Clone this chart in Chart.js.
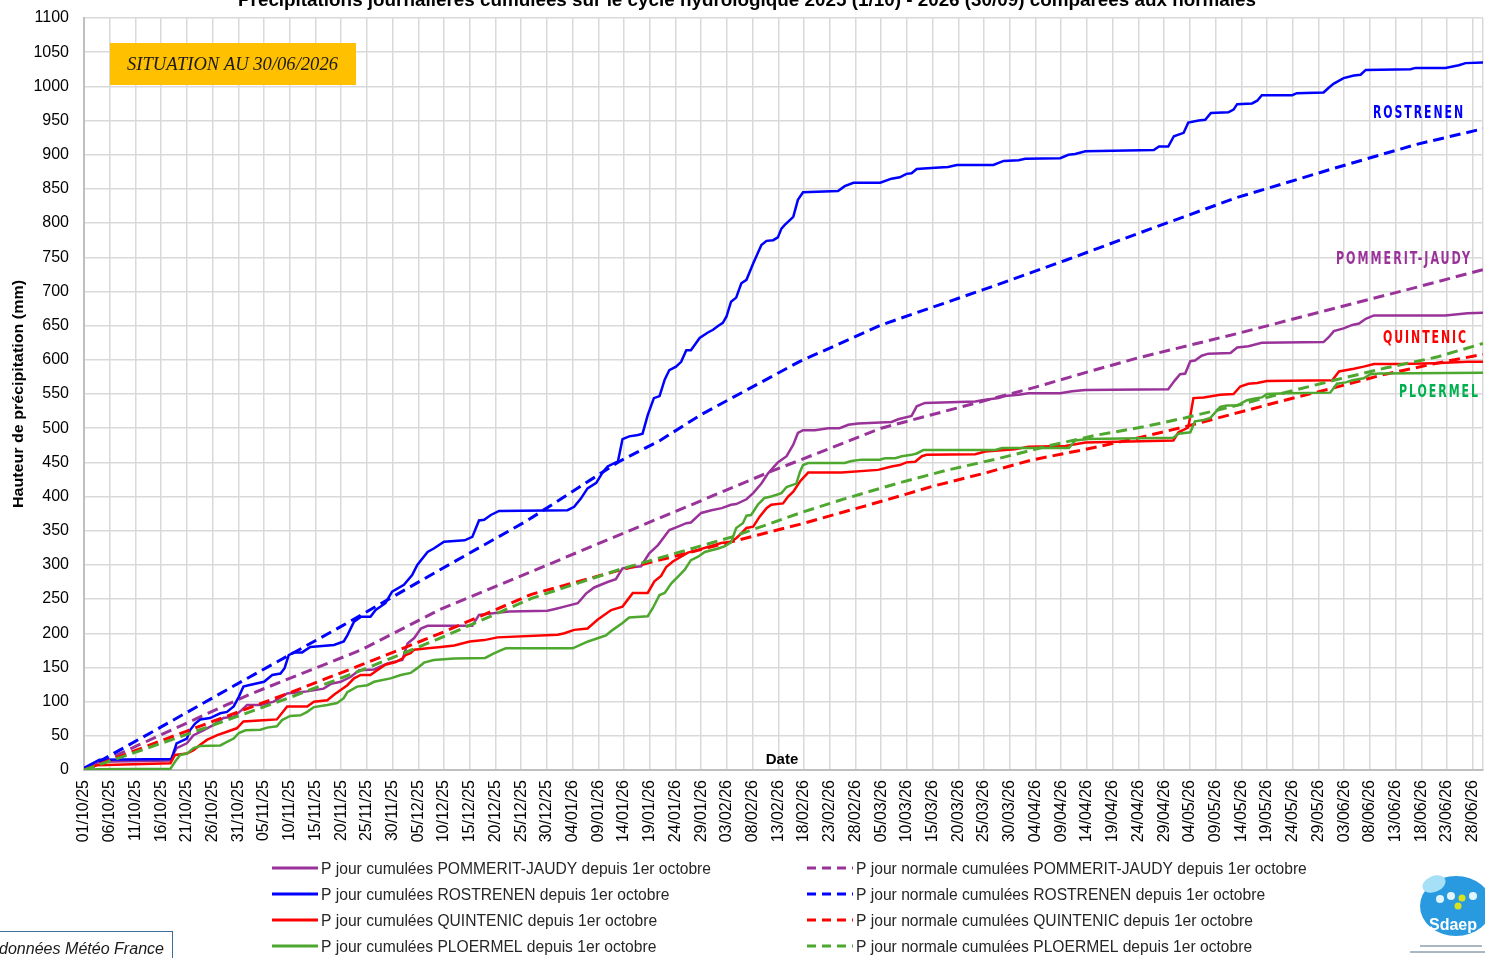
<!DOCTYPE html>
<html>
<head>
<meta charset="utf-8">
<script src="https://cdn.jsdelivr.net/npm/chart.js@4.4.1/dist/chart.umd.min.js"></script>
<style>
  html, body { margin: 0; padding: 0; background: #fff; }
  #wrap { position: relative; width: 1485px; height: 958px; overflow: hidden; }
</style>
</head>
<body>
<div id="wrap"><canvas id="chart" width="1485" height="958"></canvas></div>
<script>
// x = days since 01/10/25, one tick label every 5 days
const dateLabels = [
  '01/10/25','06/10/25','11/10/25','16/10/25','21/10/25','26/10/25','31/10/25',
  '05/11/25','10/11/25','15/11/25','20/11/25','25/11/25','30/11/25',
  '05/12/25','10/12/25','15/12/25','20/12/25','25/12/25','30/12/25',
  '04/01/26','09/01/26','14/01/26','19/01/26','24/01/26','29/01/26',
  '03/02/26','08/02/26','13/02/26','18/02/26','23/02/26','28/02/26',
  '05/03/26','10/03/26','15/03/26','20/03/26','25/03/26','30/03/26',
  '04/04/26','09/04/26','14/04/26','19/04/26','24/04/26','29/04/26',
  '04/05/26','09/05/26','14/05/26','19/05/26','24/05/26','29/05/26',
  '03/06/26','08/06/26','13/06/26','18/06/26','23/06/26','28/06/26'
];
const lastDay = 272; // 30/06/26

// cumulated rainfall [day, mm]
const pommeritObs = [[0,1],[3,12],[16.8,14],[17.5,25],[18,32],[20,39],[21.3,51],[23.2,58],[25.2,66],[27.1,76],[29.1,78],[30.7,88],[31.7,95],[34.3,95],[36.9,100],[39.5,112],[43.4,115],[46.6,119],[48,126],[49.9,129],[51.8,136],[53.5,146],[56.4,147],[59,156],[61.9,161],[62.9,185],[64.2,193],[65.5,207],[66.8,211],[75.5,211],[76.8,227],[80.4,230],[82.7,232],[90.1,233],[91.8,236],[93.4,239],[96,244],[97.6,258],[99.2,267],[101.8,275],[103.4,279],[104.7,295],[108.3,298],[109.9,317],[111.6,329],[113.8,351],[115.5,356],[117.1,361],[118,362],[120,376],[122,380],[124,383],[125.8,388],[126.8,389],[128.8,396],[130.1,405],[131.7,419],[133,434],[134.9,450],[136.6,459],[137.9,476],[138.8,493],[139.8,497],[142.1,497],[144.7,500],[146.9,500],[148.6,505],[150.5,507],[157,509],[158.3,513],[160.9,518],[161.9,532],[163.5,537],[173.3,539],[174.6,541],[177.8,544],[179.1,547],[181.7,549],[183.6,551],[189.8,551],[192.1,554],[194.7,556],[210.8,557],[212.1,570],[213.1,579],[214.1,580],[215.1,598],[216,599],[217.3,606],[218.6,609],[222.9,610],[224.2,618],[226.4,620],[229,625],[241,626],[242,633],[243,642],[244.9,646],[246.6,651],[247.9,653],[249.2,660],[250.8,665],[264.7,665],[269,668],[272,669]];
const pommeritNorm = [[0,0],[32,110],[54,176],[69,234],[100,331],[133,435],[155,500],[165,520],[175,540],[185,560],[195,582],[205,603],[224,638],[243,675],[259,706],[272,732]];

const rostrenenObs = [[0,3],[3,15],[17,16],[18,39],[20,46],[20.6,58],[21.6,68],[22.6,74],[24.5,76],[26.5,83],[27.8,85],[29.1,93],[30.1,107],[31,122],[32,124],[35,129],[36.6,139],[38.2,141],[39,149],[39.8,168],[40.8,172],[42.4,172],[44,180],[48.6,183],[50.5,188],[51.2,197],[52.5,217],[53.8,224],[55.7,224],[56.7,234],[58.6,244],[59.9,261],[62.2,271],[63.8,285],[64.8,300],[66.8,319],[68,324],[70,334],[74,336],[75.5,341],[76.8,365],[77.8,366],[79.1,373],[80.7,379],[94,380],[95.3,385],[96.6,397],[97.9,412],[99.6,420],[100.9,436],[101.8,444],[103.4,450],[103.8,451],[104.7,484],[106,488],[107.7,490],[108.6,492],[109.6,519],[110.8,544],[111.9,547],[112.9,571],[113.8,585],[115.1,590],[116.1,597],[117.1,614],[118,614],[119.7,632],[121.3,640],[122.3,644],[123.2,649],[124.2,654],[124.9,663],[125.8,685],[126.8,691],[127.8,712],[128.8,717],[130.1,741],[131.7,768],[132.7,774],[134,775],[134.9,779],[135.6,792],[136.2,797],[137.9,809],[138.8,834],[139.8,845],[146.6,847],[147.9,854],[149.6,859],[154.8,859],[157,865],[158.6,867],[159.9,872],[160.9,873],[161.9,879],[165.5,881],[168,882],[169.7,885],[176.8,885],[178.8,891],[181.7,892],[183,894],[189.8,895],[191.4,900],[192.7,901],[194.7,905],[208,907],[209,912],[210.8,912],[211.9,927],[213.8,932],[214.7,947],[216.7,950],[218,951],[219.1,961],[222.5,962],[223.5,966],[224.2,974],[227.1,975],[228.1,979],[229,987],[234.9,987],[235.8,990],[241,991],[242,998],[243,1004],[244.9,1012],[246.9,1016],[248.2,1017],[249.2,1024],[257.9,1025],[258.9,1027],[264.7,1027],[267.3,1031],[268.6,1034],[272,1035]];
const rostrenenNorm = [[0,0],[15,63],[31,131],[50,210],[69,292],[86,364],[104,451],[112,482],[120,520],[139,597],[155,651],[175,703],[191,746],[205,785],[224,837],[243,880],[259,915],[272,938]];

const quintenicObs = [[0,0],[2.5,7],[16.8,10],[17.7,22],[20,24],[21.3,29],[22.6,37],[23.9,44],[25.9,51],[27.8,56],[29.7,61],[31,71],[35.6,73],[37.5,74],[39.5,93],[43.4,93],[44.7,100],[47.3,102],[48.6,110],[49.9,117],[51.2,124],[52.5,134],[53.8,139],[55.7,139],[57,146],[58.6,154],[60.6,158],[61.9,163],[62.5,168],[63.5,171],[64.2,176],[66.8,178],[69.4,180],[72,182],[75,188],[77.8,190],[80.4,194],[92.1,198],[93.4,200],[95.3,205],[97.9,207],[99.9,220],[102.5,234],[104.7,239],[106.7,259],[109.6,259],[110.9,276],[112.2,284],[113.2,297],[114.5,305],[117.4,318],[119.4,322],[121.6,327],[123.9,332],[125.8,334],[126.8,339],[127.8,346],[128.8,354],[130.1,356],[131.4,371],[132.7,383],[133.6,388],[135.9,390],[136.9,400],[137.9,407],[139.2,422],[140.8,435],[147.3,435],[154.4,439],[157,444],[158.6,446],[159.9,450],[161.6,451],[162.9,459],[163.8,461],[173.3,462],[175.2,466],[181,469],[183.6,473],[190.8,474],[194.7,479],[211.8,482],[212.8,494],[214.7,501],[215.7,544],[217.7,545],[220.9,549],[223.5,550],[224.8,561],[226.4,565],[228.1,566],[230,569],[242.7,570],[244,583],[246.9,587],[248.8,590],[250.8,594],[256,594],[262.5,595],[269,597],[272,597]];
const quintenicNorm = [[0,0],[20,57],[40,113],[54,154],[69,199],[87,257],[104,292],[126,334],[140,361],[156,395],[165,415],[175,434],[184,453],[194,468],[204,484],[214,502],[224,522],[233,540],[243,559],[253,579],[263,595],[272,608]];

const ploermelObs = [[0,0],[2.5,1],[16.8,2],[17.7,12],[18.7,22],[20,24],[21.3,32],[22.6,35],[26.5,36],[27.8,41],[29.1,46],[30.1,54],[31.4,58],[34.3,59],[35.6,62],[37.5,64],[38.5,73],[40.1,79],[42.1,80],[43.4,85],[44.7,92],[47.3,95],[49.2,98],[50.5,105],[51.2,114],[53.1,122],[55.1,124],[56.4,129],[59.6,134],[61.6,139],[63.5,142],[64.8,149],[66.1,157],[68,161],[72,163],[78,164],[79.5,170],[81,175],[82,178],[95,178],[96.5,183],[98,188],[100,193],[101.5,197],[102.8,205],[104.7,215],[106,223],[109.6,225],[110.6,237],[111.9,256],[112.9,259],[114.2,273],[115.5,283],[116.8,293],[118,307],[119.4,312],[120.7,319],[123.3,324],[124.5,327],[125.8,333],[126.8,354],[128.1,361],[128.8,372],[129.7,373],[131,388],[132.3,398],[133.6,400],[135.6,405],[136.6,414],[138.5,419],[139.2,436],[139.8,446],[140.8,449],[147.9,449],[149.2,452],[151.2,454],[154.7,454],[155.7,456],[157.7,456],[159,459],[160.9,461],[161.9,463],[163.2,468],[177.2,468],[178.5,471],[191.5,471],[192.7,482],[195.3,484],[211.8,486],[212.8,492],[215.1,494],[216,510],[217.7,512],[219,515],[220.9,531],[222.2,533],[224.2,533],[226.1,541],[227.4,543],[229,545],[230,550],[233.9,551],[242.3,552],[243.6,565],[245.3,567],[246.6,570],[248.8,573],[250.1,579],[251.8,580],[272,581]];
const ploermelNorm = [[0,0],[20,52],[40,106],[54,146],[69,192],[87,251],[104,293],[126,341],[140,378],[148,397],[158,419],[168,439],[178,456],[188,475],[197,490],[206,502],[214,515],[224,533],[233,551],[243,570],[253,588],[263,604],[272,624]];

const PURPLE = '#993399', BLUE = '#0000ff', RED = '#ff0000', GREEN = '#4ea72e';
const FONT = '"Liberation Sans", Arial, sans-serif';

function line(label, data, color, dashed, order) {
  return {
    label, data, order,
    borderColor: color,
    backgroundColor: color,
    borderWidth: dashed ? 3 : 2.5,
    borderDash: dashed ? [11, 6] : [],
    pointRadius: 0,
    tension: 0,
    fill: false
  };
}

// Excel series order; later ones end up on top
const datasets = [
  line('P jour cumulées POMMERIT-JAUDY depuis 1er octobre', pommeritObs, PURPLE, false, 8),
  line('P jour normale cumulées POMMERIT-JAUDY depuis 1er octobre', pommeritNorm, PURPLE, true, 7),
  line('P jour cumulées ROSTRENEN depuis 1er octobre', rostrenenObs, BLUE, false, 6),
  line('P jour normale cumulées ROSTRENEN depuis 1er octobre', rostrenenNorm, BLUE, true, 5),
  line('P jour cumulées QUINTENIC depuis 1er octobre', quintenicObs, RED, false, 4),
  line('P jour normale cumulées QUINTENIC depuis 1er octobre', quintenicNorm, RED, true, 3),
  line('P jour cumulées PLOERMEL depuis 1er octobre', ploermelObs, GREEN, false, 2),
  line('P jour normale cumulées PLOERMEL depuis 1er octobre', ploermelNorm, GREEN, true, 1)
];

// squeeze text horizontally so it spans a given width
function fitText(ctx, text, x, y, width, align) {
  const w = ctx.measureText(text).width;
  ctx.save();
  ctx.translate(x, y);
  ctx.scale(width / w, 1);
  ctx.textAlign = 'left';
  ctx.fillText(text, align === 'center' ? -w / 2 : 0, 0);
  ctx.restore();
}

const decor = {
  id: 'decor',
  beforeDraw(chart) {
    const ctx = chart.ctx;
    ctx.save();
    ctx.fillStyle = '#fff';
    ctx.fillRect(0, 0, chart.width, chart.height);
    ctx.restore();
  },
  afterDraw(chart) {
    const ctx = chart.ctx;
    ctx.save();
    ctx.textBaseline = 'alphabetic';

    // title, cut at the top edge like the original
    ctx.fillStyle = '#000';
    ctx.font = 'bold 19px ' + FONT;
    fitText(ctx, 'Précipitations journalières cumulées sur le cycle hydrologique 2025 (1/10) - 2026 (30/09) comparées aux normales', 747, 6, 1018, 'center');

    // situation box
    ctx.fillStyle = '#ffc000';
    ctx.fillRect(110, 43, 246, 42);
    ctx.fillStyle = '#1a1a1a';
    ctx.font = 'italic 18px "Liberation Serif", "Times New Roman", serif';
    fitText(ctx, 'SITUATION AU 30/06/2026', 127, 70, 211, 'left');

    // station names on the right
    ctx.font = 'bold 17px "DejaVu Sans", ' + FONT;
    ctx.letterSpacing = '3px';
    const names = [
      ['ROSTRENEN', 1373, 118, 92, BLUE],
      ['POMMERIT-JAUDY', 1336, 264, 136, PURPLE],
      ['QUINTENIC', 1383, 343, 85, RED],
      ['PLOERMEL', 1399, 397, 81, '#00b050']
    ];
    names.forEach(([t, x, y, w, c]) => { ctx.fillStyle = c; fitText(ctx, t, x, y, w, 'left'); });
    ctx.letterSpacing = '0px';

    // "Date" inside the plot, above the axis
    ctx.fillStyle = '#000';
    ctx.font = 'bold 15px ' + FONT;
    ctx.textAlign = 'center';
    ctx.fillText('Date', 782, 764);

    // y axis title
    ctx.save();
    ctx.translate(23, 394);
    ctx.rotate(-Math.PI / 2);
    ctx.font = 'bold 14px ' + FONT;
    fitText(ctx, 'Hauteur de précipitation (mm)', 0, 0, 228, 'center');
    ctx.restore();

    // legend, two columns: observed / normal
    const rows = [868, 894, 920, 946];
    ctx.font = '16px ' + FONT;
    const k = 390 / ctx.measureText(datasets[0].label).width;
    datasets.forEach((d, i) => {
      const col = i % 2;
      const y = rows[Math.floor(i / 2)];
      const x0 = col ? 807 : 272;
      ctx.save();
      ctx.strokeStyle = d.borderColor;
      ctx.lineWidth = 3;
      ctx.setLineDash(col ? [9, 6] : []);
      ctx.beginPath();
      ctx.moveTo(x0, y);
      ctx.lineTo(x0 + 46, y);
      ctx.stroke();
      ctx.restore();
      ctx.fillStyle = '#262626';
      ctx.save();
      ctx.translate(x0 + 49, y + 6);
      ctx.scale(k, 1);
      ctx.textAlign = 'left';
      ctx.fillText(d.label, 0, 0);
      ctx.restore();
    });

    // source box, bottom left
    ctx.strokeStyle = '#3b6e99';
    ctx.lineWidth = 1;
    ctx.strokeRect(-5, 931.5, 177.5, 40);
    ctx.fillStyle = '#1a1a1a';
    ctx.font = 'italic 16px ' + FONT;
    fitText(ctx, 'données Météo France', -1, 954, 165, 'left');

    // Sdaep logo (rough)
    ctx.fillStyle = '#2a9ae0';
    ctx.beginPath();
    ctx.ellipse(1456, 906, 36, 30, 0, 0, Math.PI * 2);
    ctx.fill();
    ctx.fillStyle = '#a6e0f7';
    ctx.beginPath();
    ctx.ellipse(1434, 884, 12, 8, -0.4, 0, Math.PI * 2);
    ctx.fill();
    ctx.fillStyle = '#e3f5fc';
    [[1440, 899], [1451, 896], [1473, 896]].forEach(([x, y]) => { ctx.beginPath(); ctx.arc(x, y, 4, 0, Math.PI * 2); ctx.fill(); });
    ctx.fillStyle = '#d7e21c';
    [[1462, 898], [1458, 906]].forEach(([x, y]) => { ctx.beginPath(); ctx.arc(x, y, 3.5, 0, Math.PI * 2); ctx.fill(); });
    ctx.fillStyle = '#fff';
    ctx.font = 'bold 16px ' + FONT;
    ctx.textAlign = 'left';
    ctx.fillText('Sdaep', 1429, 930);
    ctx.fillStyle = '#aab8c4';
    ctx.fillRect(1420, 945, 62, 2);
    ctx.fillRect(1410, 951, 75, 2);

    ctx.restore();
  }
};

new Chart(document.getElementById('chart'), {
  type: 'line',
  data: { datasets },
  options: {
    responsive: false,
    animation: false,
    events: [],
    layout: { padding: { top: 18, right: 2, left: 0, bottom: 0 } },
    plugins: { legend: { display: false }, tooltip: { enabled: false } },
    scales: {
      x: {
        type: 'linear',
        min: 0,
        max: lastDay,
        afterBuildTicks: (axis) => {
          axis.ticks = dateLabels.map((_, i) => ({ value: i * 5 })).concat([{ value: lastDay }]);
        },
        afterFit: (axis) => { axis.height = 188; axis.paddingLeft = 0; axis.paddingRight = 0; },
        ticks: {
          autoSkip: false,
          minRotation: 90,
          maxRotation: 90,
          padding: 10,
          color: '#000',
          font: { family: FONT, size: 16 },
          callback: (v) => dateLabels[v / 5] || ''
        },
        grid: { color: '#d9d9d9', lineWidth: 1.5, drawTicks: false },
        border: { color: '#bfbfbf', width: 2 }
      },
      y: {
        min: 0,
        max: 1100,
        afterFit: (axis) => { axis.width = 84; axis.paddingTop = 0; axis.paddingBottom = 0; },
        ticks: { stepSize: 50, padding: 15, color: '#000', font: { family: FONT, size: 16 }, callback: (v) => String(v) },
        grid: { color: '#d9d9d9', lineWidth: 1.5, drawTicks: false },
        border: { color: '#bfbfbf', width: 2 }
      }
    }
  },
  plugins: [decor]
});
</script>
</body>
</html>
